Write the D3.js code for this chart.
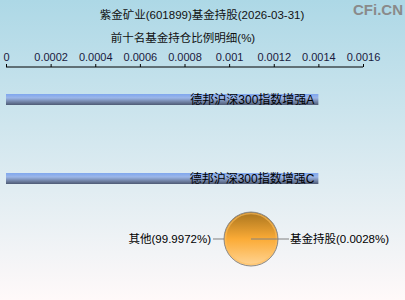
<!DOCTYPE html>
<html>
<head>
<meta charset="utf-8">
<script src="https://cdn.jsdelivr.net/npm/d3@7"></script>
<style>
  body { margin: 0; }
  text { font-family: "Liberation Sans", Arial, "Noto Sans CJK SC", sans-serif; }
  .cjk { font-family: "Liberation Sans", "Noto Sans CJK SC", sans-serif; }
</style>
</head>
<body>
<script>
// data
var funds = ["德邦沪深300指数增强A", "德邦沪深300指数增强C"];
var fundValues = [0.0014, 0.0014];
var xTicks = [0, 0.0002, 0.0004, 0.0006, 0.0008, 0.001, 0.0012, 0.0014, 0.0016];
var pieLabels = ["基金持股", "其他"];
var pieValues = [0.0028, 99.9972];

var W = 405, H = 300;

var svg = d3.select("body")
            .append("svg")
              .attr("width", W)
              .attr("height", H);

// background gradient
var defs = svg.append("defs");
var bg = defs.append("linearGradient")
    .attr("id", "bg").attr("x1", 0).attr("y1", 0).attr("x2", 0).attr("y2", 1);
bg.append("stop").attr("offset", "0%").attr("stop-color", "#add8e6");
bg.append("stop").attr("offset", "100%").attr("stop-color", "#fff9f9");

var barGrad = defs.append("linearGradient")
    .attr("id", "barGrad").attr("x1", 0).attr("y1", 0).attr("x2", 0).attr("y2", 1);
barGrad.append("stop").attr("offset", "0%").attr("stop-color", "#7fa6ee");
barGrad.append("stop").attr("offset", "35%").attr("stop-color", "#9bb6e8");
barGrad.append("stop").attr("offset", "70%").attr("stop-color", "#7385a8");
barGrad.append("stop").attr("offset", "100%").attr("stop-color", "#4d5a74");

var pieGrad = defs.append("linearGradient")
    .attr("id", "pieGrad").attr("x1", 0).attr("y1", 0).attr("x2", 0).attr("y2", 1);
pieGrad.append("stop").attr("offset", "0%").attr("stop-color", "#a8741e");
pieGrad.append("stop").attr("offset", "50%").attr("stop-color", "#fbab36");
pieGrad.append("stop").attr("offset", "100%").attr("stop-color", "#ffd596");

svg.append("rect")
    .attr("width", W).attr("height", H)
    .attr("fill", "url(#bg)");

// titles
svg.append("text")
    .attr("class", "cjk")
    .attr("x", 202).attr("y", 19)
    .attr("text-anchor", "middle")
    .style("font-size", "11.5px")
    .attr("fill", "#111")
    .text("紫金矿业(601899)基金持股(2026-03-31)");

svg.append("text")
    .attr("class", "cjk")
    .attr("x", 183).attr("y", 42)
    .attr("text-anchor", "middle")
    .style("font-size", "11.5px")
    .attr("fill", "#111")
    .text("前十名基金持仓比例明细(%)");

svg.append("text")
    .attr("x", 403).attr("y", 15)
    .attr("text-anchor", "end")
    .style("font-size", "15px")
    .style("font-weight", "bold")
    .attr("fill", "#8a8a8a")
    .text("CFi.CN");

// scales
var xScale = d3.scaleLinear()
              .domain([0, 0.0016])
              .range([6, 363]);

var yScale = d3.scaleBand()
              .domain(d3.range(funds.length))
              .range([54.5, 223.5])
              .paddingInner(0.861)
              .paddingOuter(0.5);

// axis
var xAxis = d3.axisTop(xScale)
              .tickValues(xTicks)
              .tickSize(3)
              .tickPadding(3)
              .tickFormat(function(d){ return d3.format("")(+d.toPrecision(6)); });

var gAxis = svg.append("g")
    .attr("transform", "translate(0,67)")
    .call(xAxis);
gAxis.select(".domain").attr("stroke", "#000").attr("d", "M6,0H363");
gAxis.selectAll(".tick line").attr("stroke", "#000");
gAxis.selectAll(".tick text")
    .style("font-size", "11px")
    .attr("fill", "#1a1a40");

// bars
var gBars = svg.append("g");
gBars.selectAll("rect")
    .data(fundValues)
    .enter()
    .append("rect")
      .attr("x", xScale(0))
      .attr("y", function(d, i){ return yScale(i); })
      .attr("width", function(d){ return xScale(d) - xScale(0); })
      .attr("height", yScale.bandwidth())
      .attr("fill", "url(#barGrad)");

gBars.selectAll("text")
    .data(fundValues)
    .enter()
    .append("text")
      .attr("class", "cjk")
      .attr("x", function(d){ return xScale(d) - 4; })
      .attr("y", function(d, i){ return yScale(i) + yScale.bandwidth() / 2 + 4.5; })
      .attr("text-anchor", "end")
      .style("font-size", "12px")
      .attr("fill", "#000")
      .text(function(d, i){ return funds[i]; });

// pie
var cx = 251, cy = 239, r = 27;
var pie = d3.pie().sort(null)
    .startAngle(Math.PI / 2).endAngle(Math.PI / 2 + 2 * Math.PI);
var arcs = pie(pieValues);
var arc = d3.arc().innerRadius(0).outerRadius(r);

var gPie = svg.append("g").attr("transform", "translate(" + cx + "," + cy + ")");
gPie.selectAll("path")
    .data(arcs)
    .enter()
    .append("path")
      .attr("d", arc)
      .attr("fill", "url(#pieGrad)")
      .attr("stroke", "none");
gPie.append("circle")
    .attr("r", r - 1.5)
    .attr("fill", "none")
    .attr("stroke", "#ffc060")
    .attr("stroke-opacity", 0.6)
    .attr("stroke-width", 1.5);
gPie.append("circle")
    .attr("r", r)
    .attr("fill", "none")
    .attr("stroke", "#8a8a8a")
    .attr("stroke-width", 1);

// leader lines + labels
function polar(a, rr) { return [Math.sin(a) * rr, -Math.cos(a) * rr]; }
var leaders = [
  {inner: 0, outer: r + 11, anchor: "start"},
  {inner: r, outer: r + 11, anchor: "end"}
];
arcs.forEach(function(d, i){
  var a = (d.startAngle + d.endAngle) / 2;
  var p0 = polar(a, leaders[i].inner), p1 = polar(a, leaders[i].outer);
  gPie.append("line")
      .attr("x1", p0[0]).attr("y1", p0[1])
      .attr("x2", p1[0]).attr("y2", p1[1])
      .attr("stroke", "#808080");
  gPie.append("text")
      .attr("class", "cjk")
      .attr("x", p1[0] + (leaders[i].anchor == "start" ? 1 : -2))
      .attr("y", p1[1] + 4)
      .attr("text-anchor", leaders[i].anchor)
      .style("font-size", "11.5px")
      .attr("fill", "#000")
      .text(pieLabels[i] + "(" + pieValues[i] + "%)");
});
</script>
</body>
</html>
